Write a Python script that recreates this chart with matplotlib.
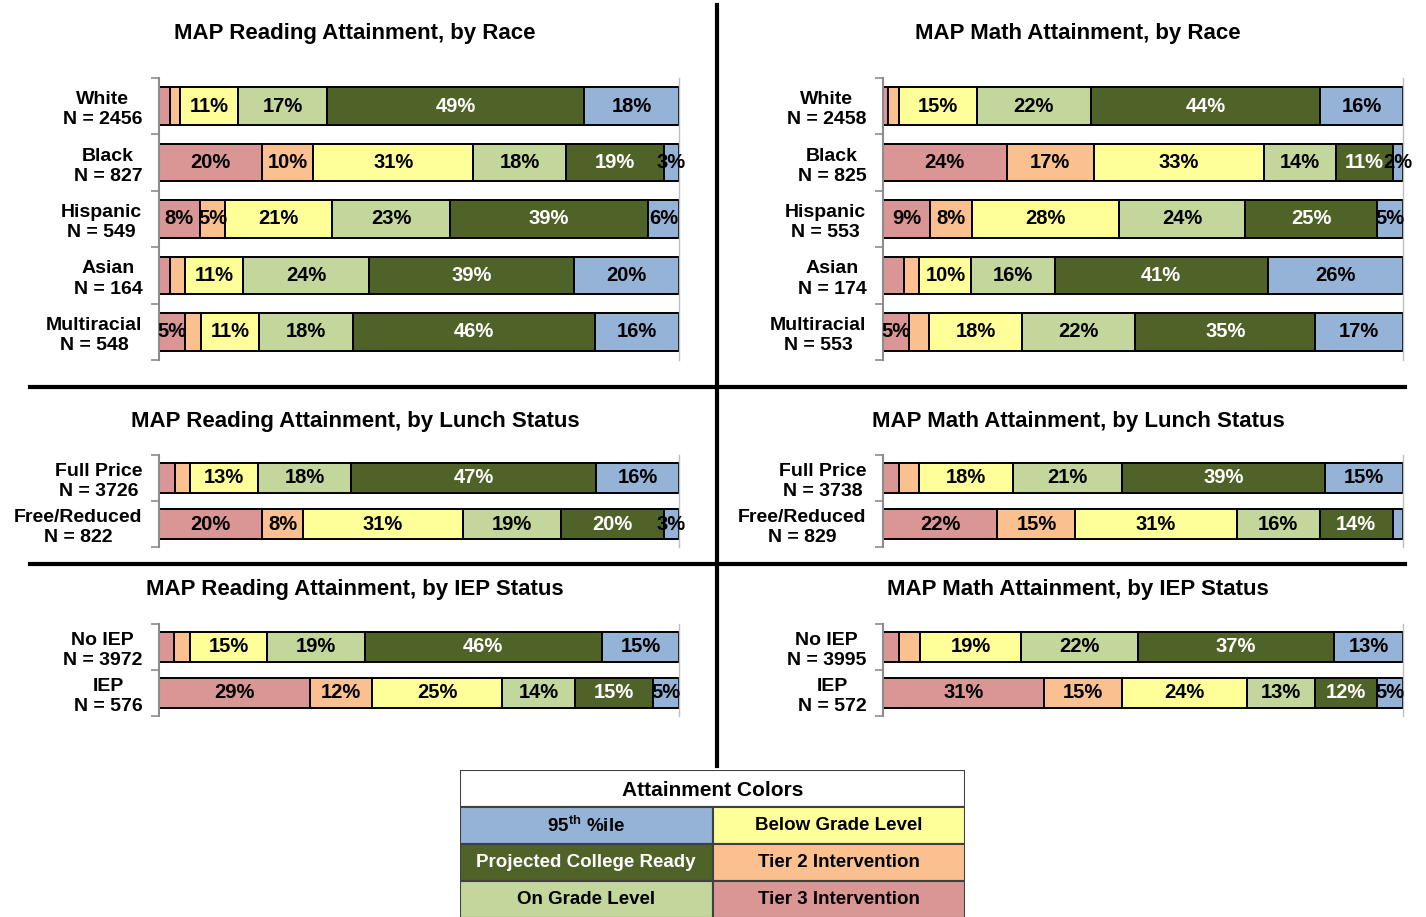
import matplotlib
matplotlib.use("Agg")
import numpy as np
import matplotlib.pyplot as plt
from matplotlib.lines import Line2D
from matplotlib.patches import Rectangle

plt.rcParams['font.family'] = ['Liberation Sans', 'DejaVu Sans']
plt.rcParams['font.weight'] = 'bold'
plt.rcParams['mathtext.fontset'] = 'custom'
plt.rcParams['mathtext.rm'] = 'Liberation Sans:bold'

# --- data: % of students in each attainment level ---
levels = ["Tier 3 Intervention", "Tier 2 Intervention", "Below Grade Level",
          "On Grade Level", "Projected College Ready", "95th %ile"]
colors = ["#D99694", "#FAC090", "#FFFF99", "#C3D69B", "#4F6228", "#95B3D7"]

race_read_groups = ["White\nN = 2456", "Black\nN = 827", "Hispanic\nN = 549",
                    "Asian\nN = 164", "Multiracial\nN = 548"]
race_read = [[2, 2, 11, 17, 49, 18],
             [20, 10, 31, 18, 19, 3],
             [8, 5, 21, 23, 39, 6],
             [2, 3, 11, 24, 39, 20],
             [5, 3, 11, 18, 46, 16]]

race_math_groups = ["White\nN = 2458", "Black\nN = 825", "Hispanic\nN = 553",
                    "Asian\nN = 174", "Multiracial\nN = 553"]
race_math = [[1, 2, 15, 22, 44, 16],
             [24, 17, 33, 14, 11, 2],
             [9, 8, 28, 24, 25, 5],
             [4, 3, 10, 16, 41, 26],
             [5, 4, 18, 22, 35, 17]]

lunch_read_groups = ["Full Price\nN = 3726", "Free/Reduced\nN = 822"]
lunch_read = [[3, 3, 13, 18, 47, 16],
              [20, 8, 31, 19, 20, 3]]

lunch_math_groups = ["Full Price\nN = 3738", "Free/Reduced\nN = 829"]
lunch_math = [[3, 4, 18, 21, 39, 15],
              [22, 15, 31, 16, 14, 2]]

iep_read_groups = ["No IEP\nN = 3972", "IEP\nN = 576"]
iep_read = [[3, 3, 15, 19, 46, 15],
            [29, 12, 25, 14, 15, 5]]

iep_math_groups = ["No IEP\nN = 3995", "IEP\nN = 572"]
iep_math = [[3, 4, 19, 22, 37, 13],
            [31, 15, 24, 13, 12, 5]]

# small segments (< 5%) that still carry a label: (row, segment)
race_read_extra = [(1, 5)]
race_math_extra = [(1, 5)]
lunch_read_extra = [(1, 5)]

W, H = 1426, 917
fig = plt.figure(figsize=(W / 100, H / 100), dpi=100)


def px_axes(x0, y0, x1, y1):
    return fig.add_axes([x0 / W, 1 - y1 / H, (x1 - x0) / W, (y1 - y0) / H])


def panel(box, title, title_x, title_y, groups, vals, extra, bar_h):
    ax = px_axes(*box)
    n = len(groups)
    for i, row in enumerate(vals):
        total = sum(row)
        left = 0
        for j, v in enumerate(row):
            w = v / total * 100
            ax.barh(i, w, left=left, height=bar_h, color=colors[j],
                    edgecolor="black", linewidth=1.4, zorder=2)
            if v >= 5 or (i, j) in extra:
                ax.text(left + w / 2, i, f"{v}%", ha="center", va="center",
                        fontsize=14.5, fontweight="bold",
                        color="white" if j == 4 else "black", zorder=3)
            left += w
    ax.set_xlim(0, 100)
    ax.set_ylim(n - 0.5, -0.5)
    ax.set_xticks([])
    ax.set_yticks(range(n))
    ax.set_yticklabels(groups, fontsize=14, fontweight="bold",
                       multialignment="center", linespacing=1.25)
    ax.set_yticks(np.arange(-0.5, n, 1), minor=True)
    ax.tick_params(axis="y", which="major", length=0, pad=12)
    ax.tick_params(axis="y", which="minor", length=6, width=1.2,
                   color="#8C8C8C", direction="out")
    for s in ["top", "bottom"]:
        ax.spines[s].set_visible(False)
    ax.spines["left"].set_color("#8C8C8C")
    ax.spines["left"].set_linewidth(1.5)
    ax.spines["right"].set_color("#BFBFBF")
    ax.spines["right"].set_linewidth(1.0)
    fig.text(title_x / W, 1 - title_y / H, title, ha="center", va="center",
             fontsize=16, fontweight="bold")
    return ax


panel((159, 78, 679, 360), "MAP Reading Attainment, by Race", 355, 34,
      race_read_groups, race_read, race_read_extra, 0.67)
panel((883, 78, 1403, 360), "MAP Math Attainment, by Race", 1078, 34,
      race_math_groups, race_math, race_math_extra, 0.67)
panel((159, 455, 679, 547), "MAP Reading Attainment, by Lunch Status", 355, 421,
      lunch_read_groups, lunch_read, lunch_read_extra, 0.66)
panel((883, 455, 1403, 547), "MAP Math Attainment, by Lunch Status", 1078, 421,
      lunch_math_groups, lunch_math, [], 0.66)
panel((159, 624, 679, 716), "MAP Reading Attainment, by IEP Status", 355, 590,
      iep_read_groups, iep_read, [], 0.66)
panel((883, 624, 1403, 716), "MAP Math Attainment, by IEP Status", 1078, 590,
      iep_math_groups, iep_math, [], 0.66)

# divider lines
def px_line(x0, y0, x1, y1):
    fig.add_artist(Line2D([x0 / W, x1 / W], [1 - y0 / H, 1 - y1 / H],
                          transform=fig.transFigure, color="black", lw=3))

px_line(717, 5, 717, 766)
px_line(30, 387, 1405, 387)
px_line(30, 564, 1405, 564)

# colour key table
lax = px_axes(460, 770, 965, 918)
lax.set_xlim(0, 2)
lax.set_ylim(4, 0)
lax.axis("off")
lax.add_patch(Rectangle((0, 0), 2, 1, facecolor="white", edgecolor="#404040", lw=1.5))
lax.text(1, 0.55, "Attainment Colors", ha="center", va="center", fontsize=15, fontweight="bold")
key_cells = [(5, "95$^{\\mathrm{th}}$ %ile"), (2, "Below Grade Level"),
             (4, "Projected College Ready"), (1, "Tier 2 Intervention"),
             (3, "On Grade Level"), (0, "Tier 3 Intervention")]
for k, (ci, label) in enumerate(key_cells):
    col, row = k % 2, k // 2 + 1
    lax.add_patch(Rectangle((col, row), 1, 1, facecolor=colors[ci], edgecolor="#404040", lw=1.5))
    lax.text(col + 0.5, row + 0.5, label, ha="center", va="center", fontsize=13.5,
             fontweight="bold", color="white" if ci == 4 else "black")

fig.savefig("out.png", dpi=100)
